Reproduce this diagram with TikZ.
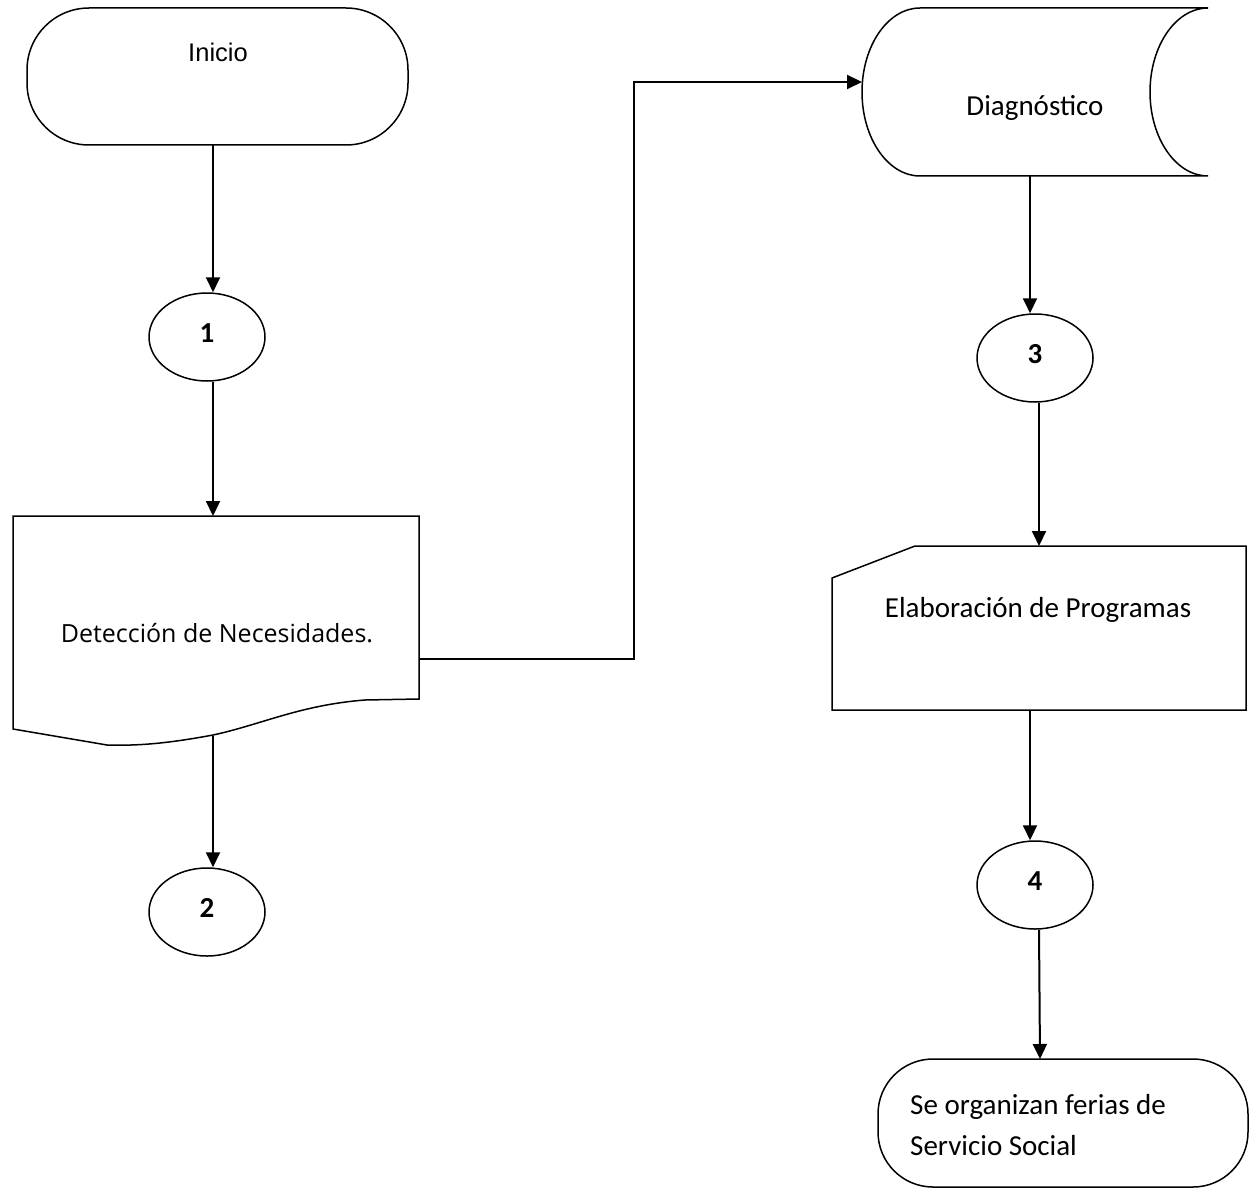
\documentclass[tikz,border=0pt]{standalone}
\usepackage{fontspec}
\setmainfont{Carlito}
\newfontfamily\arialfont{Liberation Sans}
\newfontfamily\segoefont{Open Sans}
\usetikzlibrary{arrows.meta,shapes.geometric}

\begin{document}
\begin{tikzpicture}[x=1pt,y=-1pt,
  shapeline/.style={draw=black,line width=1.5pt},
  holder/.style={rectangle,inner sep=0pt,outer sep=0pt},
  conn/.style={draw=black,line width=2pt,-{Triangle[length=15pt,width=14pt]}},
  connector/.style={ellipse,draw=black,line width=1.5pt,minimum width=116pt,
    minimum height=88pt,inner sep=0pt,text depth=8pt,
    font=\fontsize{29}{34}\selectfont\bfseries},
  label/.style={inner sep=0pt,anchor=base,font=\fontsize{29}{35}\selectfont},
]
\useasboundingbox (0,0) rectangle (1249,1190);

% Start terminal
\node[holder,shapeline,rounded corners=62pt,minimum width=381pt,minimum height=137pt]
  (inicio) at (217.5,76.5) {};
\node[label,font=\arialfont\fontsize{25.5}{30}\selectfont] (inicio-t) at (218,62) {Inicio};

% Off-page connectors
\node[connector] (c1) at (207,337) {1};
\node[connector] (c2) at (207,912) {2};
\node[connector] (c3) at (1035,358) {3};
\node[connector] (c4) at (1035,885) {4};

% Document
\node[holder,minimum width=406pt,minimum height=221pt] (doc) at (216,626.5) {};
\draw[shapeline] (doc.north west) -- (doc.north east) -- (419,699) -- (365,700)
  .. controls (300,705) and (260,725) .. (213,735)
  .. controls (170,743) and (140,746) .. (107,745) -- (13,729) -- cycle;
\coordinate (doc-out) at (213,736);
\coordinate (doc-right) at (419,659);
\node[label,font=\segoefont\fontsize{25}{30}\selectfont] (doc-t) at (217,642)
  {Detección de Necesidades.};

% Stored data
\node[holder,minimum width=346pt,minimum height=168pt] (diag) at (1035,92) {};
\draw[shapeline] (920,8) -- (1208,8)
  .. controls (1176,8) and (1150,45.6) .. (1150,92)
  .. controls (1150,138.4) and (1176,176) .. (1208,176) -- (920,176)
  .. controls (888,176) and (862,138.4) .. (862,92)
  .. controls (862,45.6) and (888,8) .. (920,8) -- cycle;
\node[label] (diag-t) at (1035,116) {Diagnóstico};

% Manual input
\node[holder,minimum width=414pt,minimum height=164pt] (prog) at (1039,628) {};
\draw[shapeline] (832,578) -- (915,546) -- (1246,546) -- (1246,710) -- (832,710) -- cycle;
\node[label] (prog-t) at (1038,617) {Elaboración de Programas};

% End terminal
\node[holder,shapeline,rounded corners=55pt,minimum width=370pt,minimum height=128pt]
  (term) at (1063,1123) {};
\node[inner sep=0pt,anchor=west,align=left,font=\fontsize{29}{41}\selectfont]
  (term-t) at (910,1125) {Se organizan ferias de\\Servicio Social};

% Flow
\draw[conn] ([xshift=-4.5pt]inicio.south) -- ([xshift=6pt]c1.north);
\draw[conn] ([xshift=6pt]c1.south) -- ([xshift=-3pt]doc.north);
\draw[conn] (doc-out) -- ([xshift=6pt]c2.north);
\draw[conn] (doc-right) -- ++(215,0) |- ([yshift=10pt]diag.west);
\draw[conn] ([xshift=-5pt]diag.south) -- ([xshift=-5pt]c3.north);
\draw[conn] ([xshift=4pt]c3.south) -- (prog.north);
\draw[conn] ([xshift=-9pt]prog.south) -- ([xshift=-5pt]c4.north);
\draw[conn] ([xshift=4pt]c4.south) -- ([xshift=-23pt]term.north);
\end{tikzpicture}
\end{document}
